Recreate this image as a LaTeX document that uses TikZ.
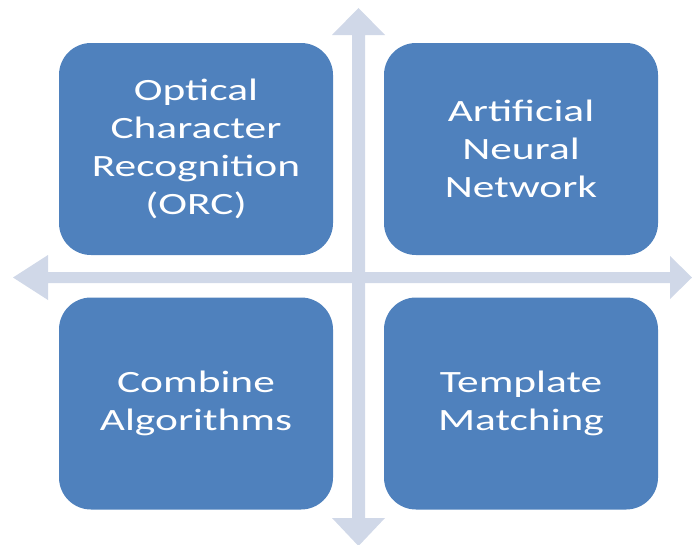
\documentclass[tikz,border=0pt]{standalone}
\usepackage{fontspec}
\setmainfont{Carlito}
\newfontfamily\quadfont[FakeStretch=1.4]{Carlito}
\definecolor{boxblue}{HTML}{4F81BD}
\definecolor{arrowgray}{HTML}{D0D8E8}
\begin{document}
\begin{tikzpicture}[x=1pt,y=-1pt,
  quad/.style={fill=boxblue, draw=none, rounded corners=32pt, minimum width=274pt, minimum height=212pt,
    text=white, align=center, inner sep=0pt, font=\quadfont\fontsize{31}{38}\selectfont},
  axis/.style={fill=arrowgray, draw=none}]
\useasboundingbox (0,0) rectangle (692,544);
% axes
\fill[axis] (358.5,8) -- (385,35) -- (365,35) -- (365,518) -- (385,518) -- (358.5,546) -- (332,518) -- (352,518) -- (352,35) -- (332,35) -- cycle;
\fill[axis] (13,277.5) -- (48,255) -- (48,272) -- (670,272) -- (670,256) -- (692,277.5) -- (670,299) -- (670,283) -- (48,283) -- (48,300) -- cycle;
% quadrants
\node[quad] (ocr) at (196,149) {Optical\\Character\\Recognition\\(ORC)};
\node[quad] (ann) at (521,149) {Artificial\\Neural\\Network};
\node[quad] (comb) at (196,403.5) {Combine\\Algorithms};
\node[quad] (tm) at (521,403.5) {Template\\Matching};
\end{tikzpicture}
\end{document}
